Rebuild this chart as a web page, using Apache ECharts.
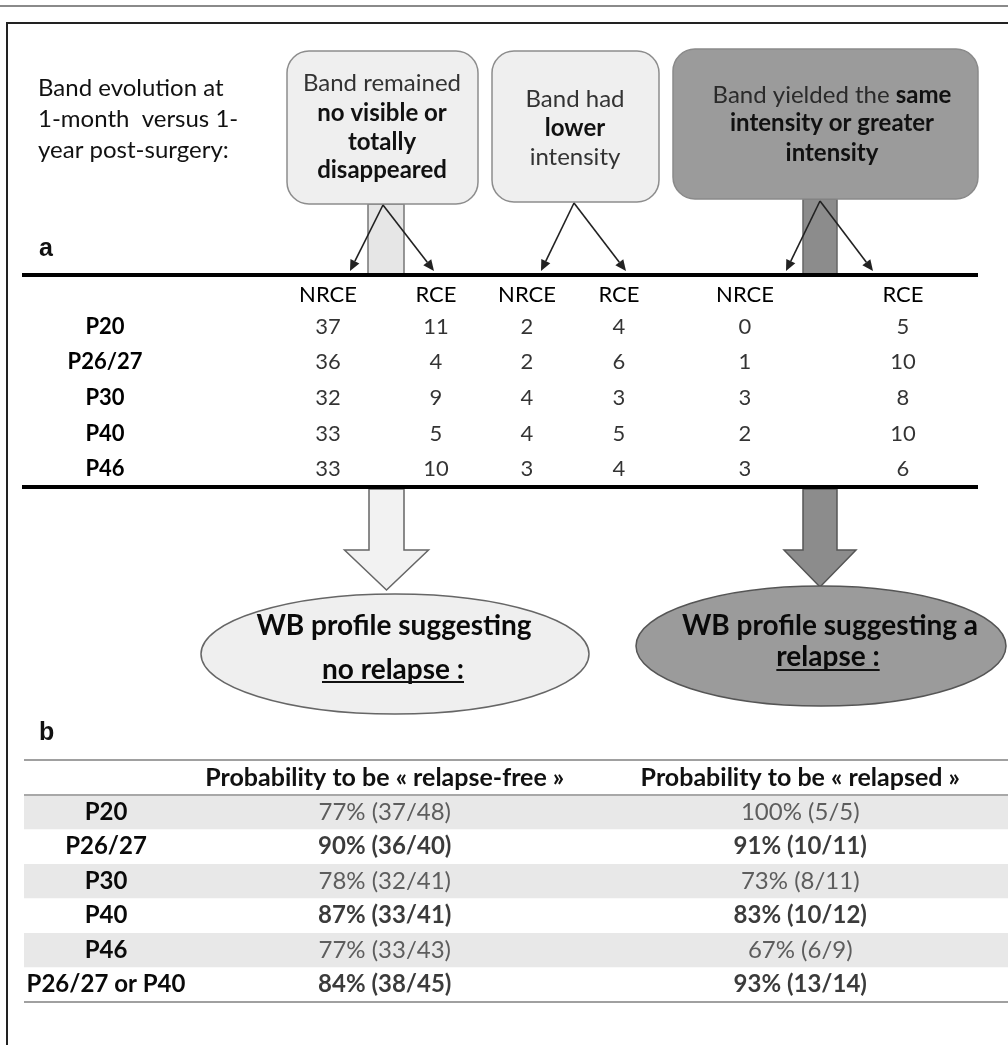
<!DOCTYPE html>
<html>
<head>
<meta charset="utf-8">
<script src="https://cdn.jsdelivr.net/npm/echarts@6/dist/echarts.min.js"></script>
<style>html,body{margin:0;padding:0;background:#fff}#chart{width:1008px;height:1045px}</style>
</head>
<body>
<div id="chart"></div>
<script>
// ---------------- DATA ----------------
const peptidesA = ['P20', 'P26/27', 'P30', 'P40', 'P46'];
const colHeads = ['NRCE', 'RCE'];
// group 1: band remained no visible or totally disappeared
const disappearedNRCE = [37, 36, 32, 33, 33];
const disappearedRCE  = [11, 4, 9, 5, 10];
// group 2: band had lower intensity
const lowerNRCE = [2, 2, 4, 4, 3];
const lowerRCE  = [4, 6, 3, 5, 4];
// group 3: same or greater intensity
const sameNRCE = [0, 1, 3, 2, 3];
const sameRCE  = [5, 10, 8, 10, 6];

const peptidesB = ['P20', 'P26/27', 'P30', 'P40', 'P46', 'P26/27 or P40'];
const headsB = ['Probability to be « relapse-free »', 'Probability to be « relapsed »'];
const freePct = [77, 90, 78, 87, 77, 84];
const freeNum = [37, 36, 32, 33, 33, 38];
const freeDen = [48, 40, 41, 41, 43, 45];
const relPct = [100, 91, 73, 83, 67, 93];
const relNum = [5, 10, 8, 10, 6, 13];
const relDen = [5, 11, 11, 12, 9, 14];
const boldRowsB = [false, true, false, true, false, true];

// ---------------- STYLE / LAYOUT ----------------
const FONT = 'Lato, "Open Sans", sans-serif';
const chart = echarts.init(document.getElementById('chart'));

function txt(text, x, y, opt) {
  opt = opt || {};
  return {
    type: 'text', z: 20,
    style: Object.assign({
      text: text, x: x, y: y,
      fontFamily: FONT, fontSize: 24, fontWeight: 'normal',
      fill: '#111', align: 'center', verticalAlign: 'middle'
    }, opt)
  };
}
function thinArrow(x1, y1, x2, y2) {
  const dx = x2 - x1, dy = y2 - y1, L = Math.hypot(dx, dy);
  const ux = dx / L, uy = dy / L, hl = 11, hw = 5;
  const bx = x2 - ux * hl, by = y2 - uy * hl;
  return [
    { type: 'line', z: 15, shape: { x1: x1, y1: y1, x2: bx, y2: by }, style: { stroke: '#222', lineWidth: 1.6 } },
    { type: 'polygon', z: 15, shape: { points: [[x2, y2], [bx - uy * hw, by + ux * hw], [bx + uy * hw, by - ux * hw]] }, style: { fill: '#222' } }
  ];
}
function blockArrow(cx, sw, hw, yTop, yHead, yTip, fill, stroke) {
  return {
    type: 'polygon', z: 5,
    shape: { points: [[cx - sw / 2, yTop], [cx + sw / 2, yTop], [cx + sw / 2, yHead], [cx + hw, yHead], [cx, yTip], [cx - hw, yHead], [cx - sw / 2, yHead]] },
    style: { fill: fill, stroke: stroke, lineWidth: 1.5 }
  };
}
const mctx = document.createElement('canvas').getContext('2d');
function measure(text, font) { mctx.font = font; return mctx.measureText(text).width; }

const g = [];
// page rules & frame
g.push({ type: 'line', shape: { x1: 0, y1: 6, x2: 1008, y2: 6 }, style: { stroke: '#8a8a8a', lineWidth: 2 } });
g.push({ type: 'rect', shape: { x: 7, y: 23, width: 1015, height: 1040 }, style: { fill: 'none', stroke: '#222', lineWidth: 2 } });

// intro text
g.push(txt('Band evolution at', 38, 88, { align: 'left' }));
g.push(txt('1-month  versus 1-', 38, 119, { align: 'left' }));
g.push(txt('year post-surgery:', 38, 150, { align: 'left' }));

// bars under boxes
g.push({ type: 'rect', z: 4, shape: { x: 368, y: 204, width: 36, height: 71 }, style: { fill: '#e6e6e6', stroke: '#777', lineWidth: 1.5 } });
g.push({ type: 'rect', z: 4, shape: { x: 803, y: 199, width: 34, height: 76 }, style: { fill: '#8c8c8c', stroke: '#666', lineWidth: 1.5 } });

// boxes
g.push({ type: 'rect', z: 6, shape: { x: 287, y: 51, width: 191, height: 153, r: 22 }, style: { fill: '#efefef', stroke: '#8d8d8d', lineWidth: 1.5 } });
g.push({ type: 'rect', z: 6, shape: { x: 492, y: 51, width: 167, height: 151, r: 22 }, style: { fill: '#efefef', stroke: '#8d8d8d', lineWidth: 1.5 } });
g.push({ type: 'rect', z: 6, shape: { x: 673, y: 49, width: 305, height: 150, r: 22 }, style: { fill: '#9b9b9b', stroke: '#8a8a8a', lineWidth: 1.5 } });

g.push(txt('Band remained', 382, 83, { fill: '#333' }));
g.push(txt('no visible or', 382, 113, { fontWeight: 'bold' }));
g.push(txt('totally', 382, 142, { fontWeight: 'bold' }));
g.push(txt('disappeared', 382, 170, { fontWeight: 'bold' }));

g.push(txt('Band had', 575, 99, { fill: '#333' }));
g.push(txt('lower', 575, 128, { fontWeight: 'bold' }));
g.push(txt('intensity', 575, 157, { fill: '#333' }));

g.push({
  type: 'text', z: 20,
  style: {
    text: '{n|Band yielded the }{b|same}', x: 832, y: 95, align: 'center', verticalAlign: 'middle',
    rich: {
      n: { fontFamily: FONT, fontSize: 24, fill: '#2a2a2a' },
      b: { fontFamily: FONT, fontSize: 24, fontWeight: 'bold', fill: '#111' }
    }
  }
});
g.push(txt('intensity or greater', 832, 123, { fontWeight: 'bold' }));
g.push(txt('intensity', 832, 153, { fontWeight: 'bold' }));

// thin arrows
[[383, 205, 350, 271], [383, 205, 434, 271], [574, 203, 541, 271], [574, 203, 626, 271], [820, 201, 786, 271], [820, 201, 873, 271]]
  .forEach(a => thinArrow(a[0], a[1], a[2], a[3]).forEach(e => g.push(e)));

// panel labels
g.push(txt('a', 39, 249, { align: 'left', fontFamily: '"Liberation Sans", Arial, sans-serif', fontWeight: 'bold', fontSize: 25 }));
g.push(txt('b', 39, 733, { align: 'left', fontFamily: '"Liberation Sans", Arial, sans-serif', fontWeight: 'bold', fontSize: 25 }));

// thick rules table a
g.push({ type: 'line', z: 10, shape: { x1: 22, y1: 275, x2: 978, y2: 275 }, style: { stroke: '#000', lineWidth: 4 } });
g.push({ type: 'line', z: 10, shape: { x1: 22, y1: 487, x2: 978, y2: 487 }, style: { stroke: '#000', lineWidth: 4 } });

// block arrows
g.push(blockArrow(386.5, 35, 42, 489, 550, 590, '#f2f2f2', '#666'));
g.push(blockArrow(820, 34, 36, 489, 550, 587, '#8c8c8c', '#555'));

// ellipses
g.push({ type: 'ellipse', z: 6, shape: { cx: 395, cy: 654, rx: 194, ry: 60 }, style: { fill: '#efefef', stroke: '#666', lineWidth: 1.5 } });
g.push({ type: 'ellipse', z: 6, shape: { cx: 821, cy: 646, rx: 185, ry: 60 }, style: { fill: '#9b9b9b', stroke: '#555', lineWidth: 1.5 } });
const EF = 'bold 28px ' + FONT;
g.push(txt('WB profile suggesting', 394, 626, { fontWeight: 'bold', fontSize: 28, fill: '#0a0a0a' }));
g.push(txt('no relapse :', 393, 670, { fontWeight: 'bold', fontSize: 28, fill: '#0a0a0a' }));
g.push(txt('WB profile suggesting a', 830, 626, { fontWeight: 'bold', fontSize: 28, fill: '#0a0a0a' }));
g.push(txt('relapse :', 828, 657, { fontWeight: 'bold', fontSize: 28, fill: '#0a0a0a' }));
(function () {
  const w1 = measure('no relapse :', EF), w2 = measure('relapse :', EF);
  g.push({ type: 'line', z: 21, shape: { x1: 393 - w1 / 2, y1: 682, x2: 393 + w1 / 2, y2: 682 }, style: { stroke: '#111', lineWidth: 1.8 } });
  g.push({ type: 'line', z: 21, shape: { x1: 828 - w2 / 2, y1: 670, x2: 828 + w2 / 2, y2: 670 }, style: { stroke: '#111', lineWidth: 1.8 } });
})();

// table b rules
g.push({ type: 'line', z: 10, shape: { x1: 24, y1: 760, x2: 1008, y2: 760 }, style: { stroke: '#a0a0a0', lineWidth: 2 } });
g.push({ type: 'line', z: 10, shape: { x1: 24, y1: 795, x2: 1008, y2: 795 }, style: { stroke: '#a8a8a8', lineWidth: 2 } });
g.push({ type: 'line', z: 10, shape: { x1: 24, y1: 1002, x2: 1008, y2: 1002 }, style: { stroke: '#a0a0a0', lineWidth: 2 } });

// ---------------- TABLE A via grids ----------------
const groupsA = [
  { left: 274, width: 216, nrce: disappearedNRCE, rce: disappearedRCE },
  { left: 481, width: 184, nrce: lowerNRCE, rce: lowerRCE },
  { left: 666, width: 316, nrce: sameNRCE, rce: sameRCE }
];
const grids = [], xAxes = [], yAxes = [], series = [];
const hidden = { axisLine: { show: false }, axisTick: { show: false }, splitLine: { show: false } };
groupsA.forEach((gr, i) => {
  grids.push({ left: gr.left, width: gr.width, top: 309, height: 178 });
  xAxes.push(Object.assign({
    type: 'category', gridIndex: i, position: 'top', data: colHeads,
    axisLabel: { interval: 0, fontFamily: FONT, fontSize: 22, color: '#000', margin: 14, verticalAlign: 'middle' }
  }, hidden));
  yAxes.push(Object.assign({
    type: 'category', gridIndex: i, inverse: true, data: peptidesA,
    axisLabel: i === 0
      ? { interval: 0, fontFamily: FONT, fontSize: 22, fontWeight: 'bold', color: '#000', align: 'center', margin: 169 }
      : { show: false }
  }, hidden));
  [gr.nrce, gr.rce].forEach((vals, c) => {
    series.push({
      type: 'scatter', xAxisIndex: i, yAxisIndex: i, symbolSize: 1, silent: true,
      itemStyle: { color: 'rgba(0,0,0,0)' },
      data: vals.map((v, r) => [colHeads[c], peptidesA[r], v]),
      label: { show: true, position: 'inside', formatter: p => String(p.value[2]), fontFamily: FONT, fontSize: 22, color: '#000' }
    });
  });
});

// ---------------- TABLE B ----------------
// band grid (alternating row shading)
const bandIdx = grids.length;
grids.push({ left: 24, right: 0, top: 795, height: 207 });
xAxes.push({ type: 'value', gridIndex: bandIdx, show: false });
yAxes.push(Object.assign({
  type: 'category', gridIndex: bandIdx, inverse: true, data: peptidesB,
  axisLabel: { show: false },
  splitArea: { show: true, areaStyle: { color: ['#e8e8e8', '#ffffff'] } }
}, hidden));

const tbIdx = grids.length;
grids.push({ left: 177, width: 848, top: 795, height: 207 });
xAxes.push(Object.assign({
  type: 'category', gridIndex: tbIdx, position: 'top', data: headsB,
  axisLabel: { interval: 0, fontFamily: FONT, fontSize: 25, fontWeight: 'bold', color: '#111', margin: 17, verticalAlign: 'middle' }
}, hidden));
yAxes.push(Object.assign({
  type: 'category', gridIndex: tbIdx, inverse: true, data: peptidesB,
  axisLabel: { interval: 0, fontFamily: FONT, fontSize: 24, fontWeight: 'bold', color: '#0a0a0a', align: 'center', margin: 71 }
}, hidden));
[[freePct, freeNum, freeDen], [relPct, relNum, relDen]].forEach((arr, c) => {
  series.push({
    type: 'scatter', xAxisIndex: tbIdx, yAxisIndex: tbIdx, symbolSize: 1, silent: true, z: 5,
    itemStyle: { color: 'rgba(0,0,0,0)' },
    data: arr[0].map((v, r) => ({
      value: [headsB[c], peptidesB[r], v, arr[1][r], arr[2][r]],
      label: { fontWeight: boldRowsB[r] ? 'bold' : 'normal', color: boldRowsB[r] ? '#0a0a0a' : '#3a3a3a' }
    })),
    label: { show: true, position: 'inside', formatter: p => p.value[2] + '% (' + p.value[3] + '/' + p.value[4] + ')', fontFamily: FONT, fontSize: 24 }
  });
});

chart.setOption({
  animation: false,
  backgroundColor: '#ffffff',
  grid: grids, xAxis: xAxes, yAxis: yAxes, series: series,
  graphic: { elements: g }
});
</script>
</body>
</html>
